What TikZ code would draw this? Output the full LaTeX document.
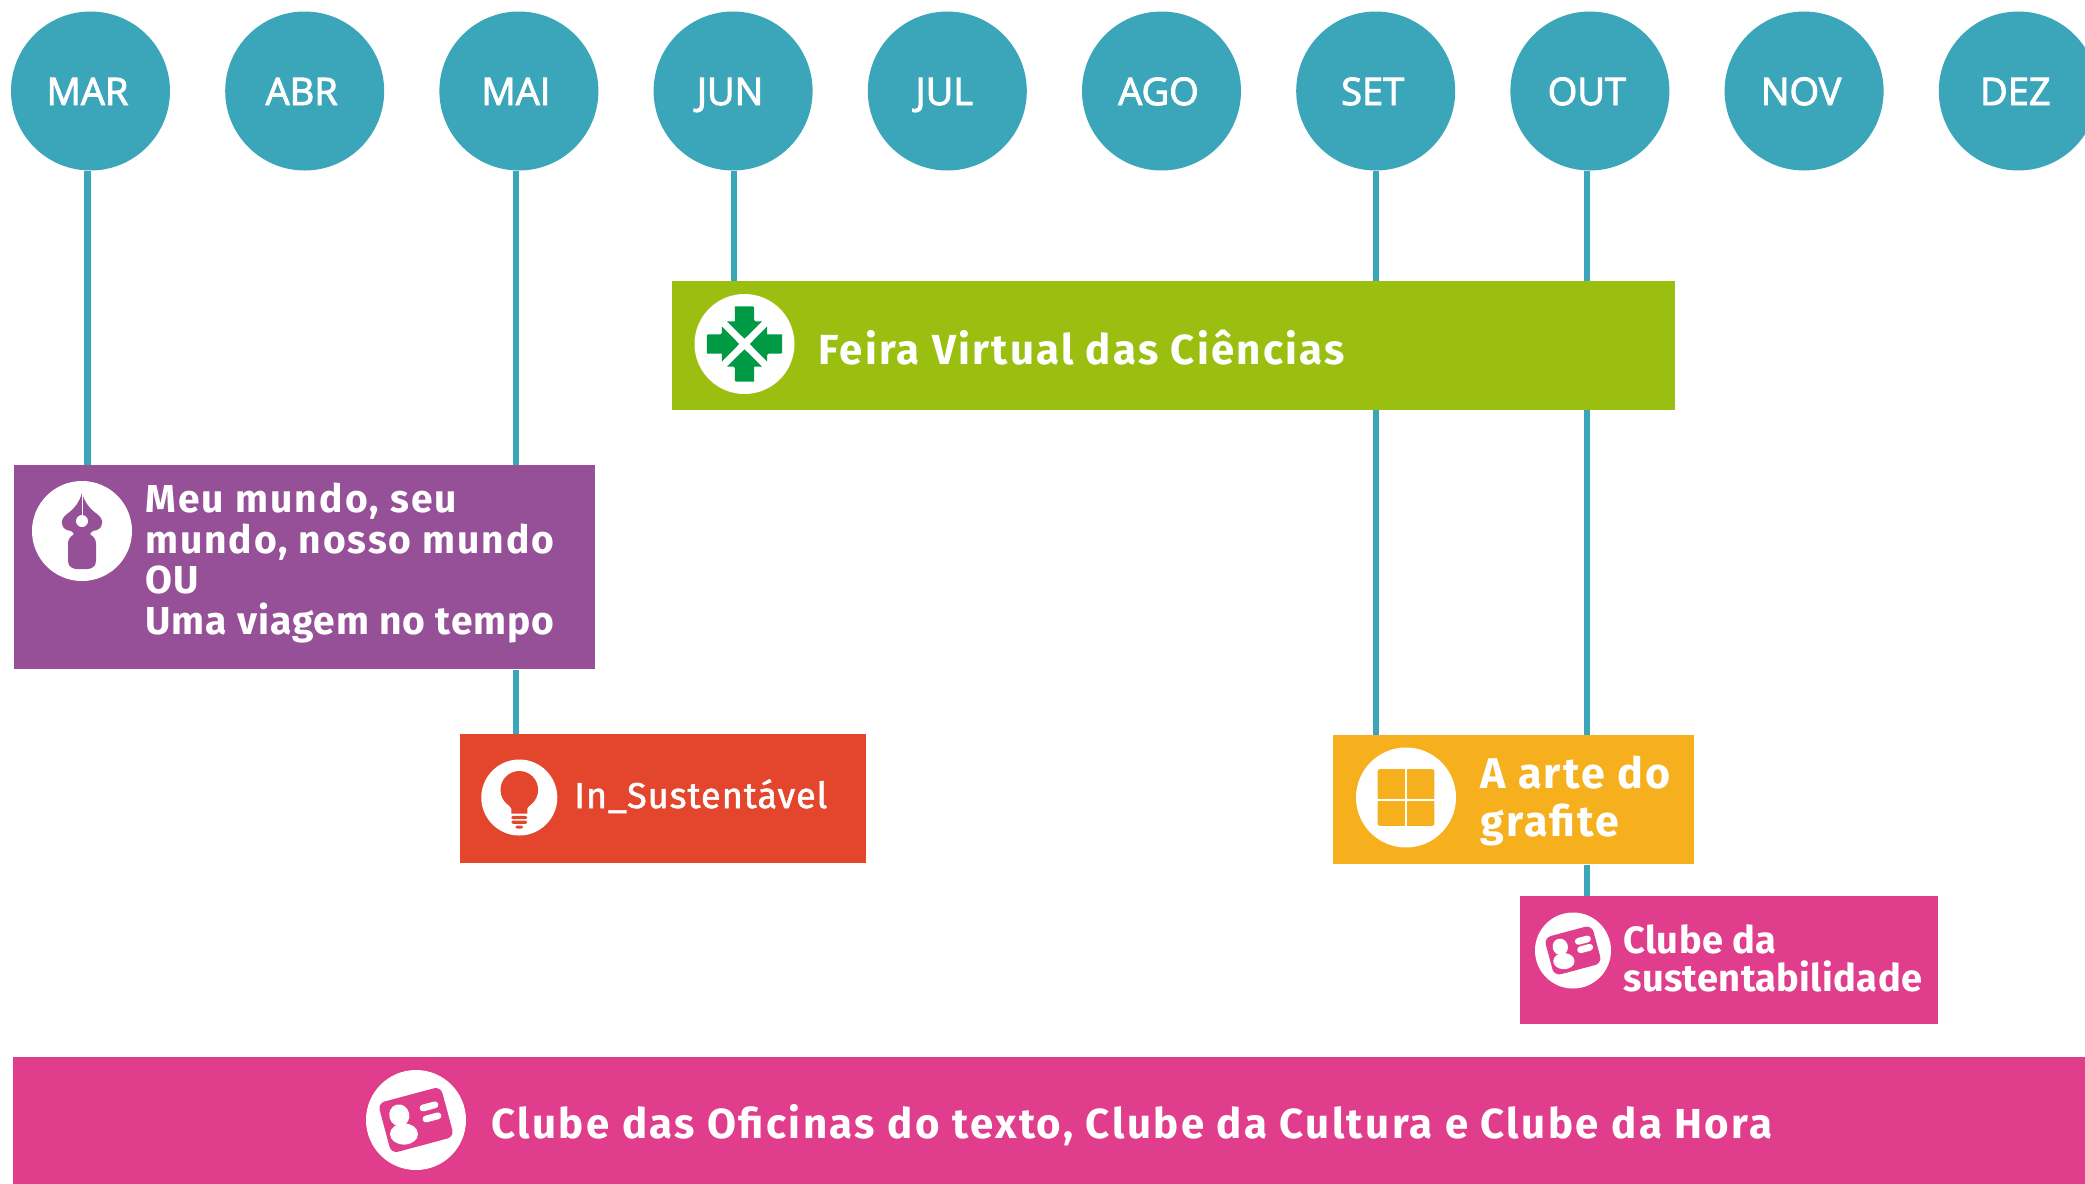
\documentclass[tikz,border=0pt]{standalone}
\usepackage{fontspec}
\setmainfont{Fira Sans}
\newfontfamily\monthfont[FakeBold=2.5]{Open Sans}
\newfontfamily\boxfont{Fira Sans}
\newfontfamily\medfont[FakeBold=1.5]{Fira Sans}
\definecolor{tealc}{HTML}{3BA6B9}
\definecolor{limec}{HTML}{9BBF11}
\definecolor{arrowc}{HTML}{009A44}
\definecolor{purplec}{HTML}{955098}
\definecolor{redc}{HTML}{E3462D}
\definecolor{orangec}{HTML}{F6B01E}
\definecolor{pinkc}{HTML}{E03E8C}
\tikzset{
 x=0.5pt,y=-0.5pt,
 month/.style={circle,fill=tealc,draw=none,minimum size=79.5pt,inner sep=0pt},
 monthlabel/.style={text=white,font=\monthfont\fontsize{19}{20}\selectfont,inner sep=0pt,anchor=base},
 bar/.style={draw=none,rectangle,inner sep=0pt,anchor=north west},
 disc/.style={circle,fill=white,draw=none,inner sep=0pt},
 label/.style={text=white,inner sep=0pt,anchor=base west,align=left},
 link/.style={draw=tealc,line width=3.1pt},
 carddraw/.pic={
   \begin{scope}[rotate=15]
   \fill[pinkc,rounded corners=3.5pt] (-32.5,-26) rectangle (32.5,26);
   \end{scope}
   \fill[white,rotate around={15:(-16.7,-4.7)}] (-16.7,-4.7) ellipse [x radius=5pt,y radius=5.5pt];
   \fill[white] (-12,14) ellipse [x radius=7pt,y radius=5.3pt];
   \draw[white,line width=3.4pt,line cap=round] (7,-12) -- (19,-15.2);
   \draw[white,line width=3.4pt,line cap=round] (10,-1) -- (22,-4.2);
 }
}
\begin{document}
\begin{tikzpicture}
\useasboundingbox (0,0) rectangle (2085,1184);
% months
\foreach \nm/\tx [count=\i from 0] in {mar/MAR,abr/ABR,mai/MAI,jun/JUN,jul/JUL,ago/AGO,set/SET,out/OUT,nov/NOV,dez/DEZ}{
  \node[month] (\nm) at ({90.5+214.2*\i},91) {};
  \node[monthlabel] (\nm t) at ({87.5+214.2*\i},105) {\tx};
}
\clip (0,0) rectangle (2085,1184);
% boxes
\node[bar,fill=limec,minimum width=501.5pt,minimum height=64.3pt] (feira) at (672,281) {};
\node[bar,fill=purplec,minimum width=290.5pt,minimum height=102pt] (meu) at (14,465) {};
\node[bar,fill=redc,minimum width=203pt,minimum height=64.5pt] (insus) at (460,734) {};
\node[bar,fill=orangec,minimum width=180.5pt,minimum height=64.5pt] (arte) at (1333,735) {};
\node[bar,fill=pinkc,minimum width=209pt,minimum height=64pt] (clubes) at (1520,895.5) {};
\node[bar,fill=pinkc,minimum width=1036pt,minimum height=63.5pt] (oficinas) at (13,1057) {};
% connectors
\coordinate (xmar) at (87.5,0);
\coordinate (xmai) at (516,0);
\coordinate (xjun) at (734,0);
\coordinate (xset) at (1376,0);
\coordinate (xout) at (1587,0);
\draw[link] (xmar |- mar.south) -- (xmar |- meu.north);
\draw[link] (xmai |- mai.south) -- (xmai |- meu.north);
\draw[link] (xmai |- meu.south) -- (xmai |- insus.north);
\draw[link] (xjun |- jun.south) -- (xjun |- feira.north);
\draw[link] (xset |- set.south) -- (xset |- feira.north);
\draw[link] (xset |- feira.south) -- (xset |- arte.north);
\draw[link] (xout |- out.south) -- (xout |- feira.north);
\draw[link] (xout |- feira.south) -- (xout |- arte.north);
\draw[link] (xout |- arte.south) -- (xout |- clubes.north);
% discs
\node[disc,minimum size=50pt] (d1) at (744.5,344) {};
\node[disc,minimum size=50pt] (d2) at (82,531) {};
\node[disc,minimum size=38pt] (d3) at (519.3,797.5) {};
\node[disc,minimum size=50pt] (d4) at (1406,797.5) {};
\node[disc,minimum size=38pt] (d5) at (1573,950.5) {};
\node[disc,minimum size=50pt] (d6) at (416,1120) {};
% arrows icon
\begin{scope}[shift={(d1.center)}]
\foreach \a in {0,90,180,270}{
 \fill[arrowc,rotate=\a,rounded corners=0.6pt] (-9.7,-37.7) -- (9.7,-37.7) -- (9.7,-22.7) [sharp corners] -- (17.7,-22.7) -- (0,-5.3) -- (-17.7,-22.7) -- (-9.7,-22.7) -- cycle;
}
\end{scope}
% nib icon
\begin{scope}[shift={(d2.center)}]
\fill[purplec] (0,-38) .. controls (3,-28) and (8,-22) .. (15,-17) .. controls (22,-12) and (22,-4) .. (15,-1)
 .. controls (10,0) and (9,1) .. (8,3) .. controls (10,5) and (14,7) .. (14,12)
 -- (14,30) .. controls (14,36) and (9,38) .. (5,38) -- (-5,38) .. controls (-9,38) and (-14,36) .. (-14,30)
 -- (-14,12) .. controls (-14,7) and (-10,5) .. (-8,3) .. controls (-9,1) and (-10,0) .. (-15,-1)
 .. controls (-22,-4) and (-22,-12) .. (-15,-17) .. controls (-8,-22) and (-3,-28) .. (0,-38) -- cycle;
\fill[white] (0,-10) circle [radius=3pt];
\draw[white,line width=0.5pt] (0,-38) -- (0,-10);
\end{scope}
% bulb icon
\begin{scope}[shift={(d3.center)}]
\fill[redc] (0,-7.7) circle [radius=9.4pt];
\fill[redc] (-8,16) -- (-8,11) -- (-13,4) -- (13,4) -- (8,11) -- (8,16) -- cycle;
\fill[redc,rounded corners=0.8pt] (-8,18.3) rectangle (8,21.7);
\fill[redc,rounded corners=0.8pt] (-8,23) rectangle (8,26.3);
\fill[redc,rounded corners=0.8pt] (-4,28) rectangle (4,31);
\end{scope}
% grid icon
\begin{scope}[shift={(d4.center)}]
\fill[orangec,rounded corners=1pt] (-28.3,-28.3) rectangle (28.3,28.3);
\draw[white,line width=1pt] (0,-29) -- (0,29);
\draw[white,line width=1pt] (-29,2) -- (29,2);
\end{scope}
% card icons
\pic[scale=0.76] at (d5.center) {carddraw};
\pic at (d6.center) {carddraw};
% labels
\node[label,font=\boxfont\addfontfeature{LetterSpace=5.4}\bfseries\fontsize{21}{24}\selectfont] (tfeira) at (818,364) {Feira Virtual das Ciências};
\node[label,font=\boxfont\bfseries\fontsize{19.5}{20.25}\selectfont] (tmeu) at (145,634) {{\addfontfeature{LetterSpace=5.4}Meu mundo, seu}\\{\addfontfeature{LetterSpace=4.8}mundo, nosso mundo}\\{\addfontfeature{LetterSpace=2.5}OU}\\{\addfontfeature{LetterSpace=2.5}Uma viagem no tempo}};
\node[label,font=\medfont\addfontfeature{LetterSpace=2.8}\fontsize{18}{20}\selectfont] (tin) at (574,808) {In\_Sustentável};
\node[label,font=\boxfont\addfontfeature{LetterSpace=5}\bfseries\fontsize{21.5}{24}\selectfont] (tarte) at (1480,836) {A arte do\\grafite};
\node[label,font=\boxfont\addfontfeature{LetterSpace=1}\bfseries\fontsize{19}{19}\selectfont] (tclube) at (1623,991) {Clube da\\sustentabilidade};
\node[label,font=\boxfont\addfontfeature{LetterSpace=5.8}\bfseries\fontsize{21}{24}\selectfont] (tofi) at (491,1138) {Clube das Oficinas do texto, Clube da Cultura e Clube da Hora};
\end{tikzpicture}
\end{document}
